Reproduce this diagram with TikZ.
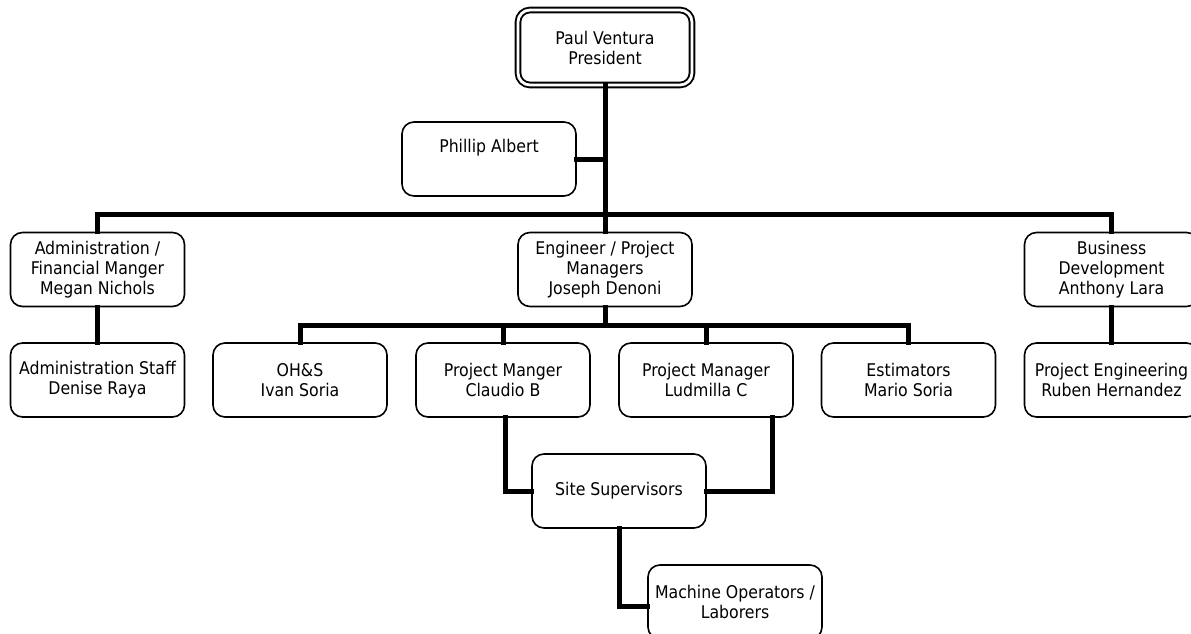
\documentclass[tikz,border=0pt]{standalone}
\usepackage{fontspec}
\setmainfont{DejaVu Sans Condensed}
\begin{document}
\begin{tikzpicture}[x=1pt,y=-1pt,
  box/.style={draw=black, line width=1.6pt, rounded corners=12pt, minimum width=174pt, minimum height=74pt, inner sep=0pt, align=center, font=\fontsize{17.5}{20}\selectfont, fill=white},
  topbox/.style={box, double, double distance=2.8pt, line width=1.9pt, minimum width=174pt, minimum height=75pt},
  conn/.style={line width=5pt, line cap=rect}]
\useasboundingbox (0,0) rectangle (1191,634);
\fill[white] (0,0) rectangle (1191,634);
\coordinate (bus1) at (605,214);
\coordinate (bus2) at (605,325);
\node[topbox] (pres) at (605,47.5) {Paul Ventura\\President};
\node[box] (phil) at (489,159) {Phillip Albert\\\strut};
\node[box] (admin) at (97.5,269.5) {Administration /\\Financial Manger\\Megan Nichols};
\node[box] (eng) at (605,269.5) {Engineer / Project\\Managers\\Joseph Denoni};
\node[box] (biz) at (1111.5,269.5) {Business\\Development\\Anthony Lara};
\node[box] (staff) at (97.5,380) {Administration Staff\\Denise Raya};
\node[box] (ohs) at (300,380) {OH\&S\\Ivan Soria};
\node[box] (cla) at (503,380) {Project Manger\\Claudio B};
\node[box] (lud) at (706,380) {Project Manager\\Ludmilla C};
\node[box] (est) at (908.5,380) {Estimators\\Mario Soria};
\node[box] (peng) at (1111.5,380) {Project Engineering\\Ruben Hernandez};
\node[box] (site) at (619,491) {Site Supervisors};
\node[box] (mach) at (735,602) {Machine Operators /\\Laborers};
\draw[conn] (pres.south) -- (eng.north);
\draw[conn] (phil.east) -- (phil.east -| pres.south);
\draw[conn] (admin.north) |- (bus1) -| (biz.north);
\draw[conn] (admin.south) -- (staff.north);
\draw[conn] (biz.south) -- (peng.north);
\draw[conn] (eng.south) -- (bus2);
\draw[conn] (ohs.north) |- (bus2) -| (est.north);
\draw[conn] (cla.north) -- (cla.north |- bus2);
\draw[conn] (lud.north) -- (lud.north |- bus2);
\draw[conn] ([xshift=2pt]cla.south) |- (site.west);
\draw[conn] ([xshift=-21pt]lud.south east) |- (site.east);
\draw[conn] (site.south) |- ([yshift=-4pt]mach.west);
\end{tikzpicture}
\end{document}
